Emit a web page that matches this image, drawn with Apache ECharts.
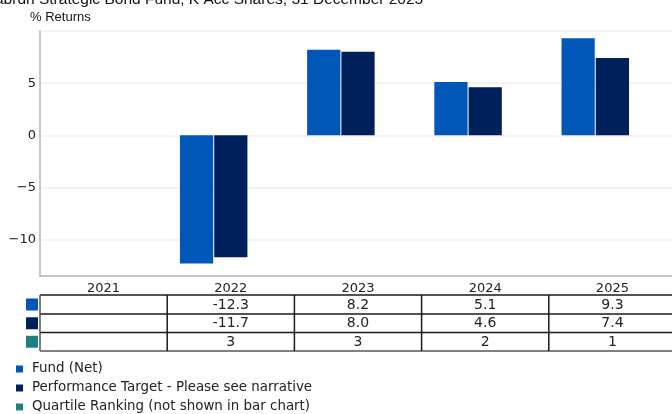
<!DOCTYPE html>
<html>
<head>
<meta charset="utf-8">
<script src="https://cdn.jsdelivr.net/npm/echarts@6/dist/echarts.min.js"></script>
<style>
html,body{margin:0;padding:0;background:#fff;}
#chart{width:672px;height:414px;}
</style>
</head>
<body>
<div id="chart"></div>
<script>
const titleText = 'abrdn Strategic Bond Fund, K Acc Shares, 31 December 2025';
const yAxisTitle = '% Returns';
const categories = ['2021', '2022', '2023', '2024', '2025'];
const fundNet = [null, -12.3, 8.2, 5.1, 9.3];
const perfTarget = [null, -11.7, 8.0, 4.6, 7.4];
const quartile = [null, 3, 3, 2, 1];
const seriesNames = ['Fund (Net)', 'Performance Target - Please see narrative', 'Quartile Ranking (not shown in bar chart)'];
const colors = ['#0057B8', '#00205B', '#1E8080'];
const yTickLabels = [-10, -5, 0, 5];

const FONT = 'DejaVu Sans';
const chart = echarts.init(document.getElementById('chart'), null, {renderer: 'canvas'});

const option = {
  animation: false,
  color: colors,
  grid: {left: 40, top: 31, width: 636, height: 245, containLabel: false, outerBoundsMode: 'none'},
  legend: {
    orient: 'vertical', left: 16, top: 361, padding: 0, height: 60,
    icon: 'rect', itemWidth: 7, itemHeight: 7, itemGap: 3,
    selectedMode: false,
    textStyle: {fontFamily: FONT, fontSize: 13.4, color: '#222', lineHeight: 16, padding: [0, 0, 0, 4]},
    data: seriesNames
  },
  xAxis: {
    type: 'category', data: categories,
    axisLine: {onZero: false, lineStyle: {color: '#b4b4b4', width: 1.5}},
    axisTick: {show: false},
    axisLabel: {fontFamily: FONT, fontSize: 13, color: '#222', margin: 6}
  },
  yAxis: {
    type: 'value', min: -13.5, max: 10,
    axisLine: {show: true, lineStyle: {color: '#b4b4b4', width: 1.5}},
    axisTick: {show: false},
    splitLine: {lineStyle: {color: '#f0f0f4', width: 1.5}},
    axisLabel: {
      fontFamily: FONT, fontSize: 13, color: '#222', margin: 4,
      formatter: function (v) {
        if (yTickLabels.indexOf(v) < 0) return '';
        return v < 0 ? '\u2212' + Math.abs(v) : String(v);
      }
    }
  },
  series: [
    {name: seriesNames[0], type: 'bar', data: fundNet, barGap: '3%', barCategoryGap: '20%', itemStyle: {color: colors[0]}},
    {name: seriesNames[1], type: 'bar', data: perfTarget, itemStyle: {color: colors[1]}},
    {name: seriesNames[2], type: 'bar', data: quartile.map(() => null), itemStyle: {color: colors[2]}}
  ]
};
chart.setOption(option);

function buildGraphics() {
  const centers = categories.map((c, i) => chart.convertToPixel({xAxisIndex: 0}, i));
  const band = centers[1] - centers[0];
  const xStart = centers[0] - band / 2;
  const xEnd = centers[centers.length - 1] + band / 2;
  const rowTops = [295, 314, 332.5];
  const rowH = [19, 18.5, 18.5];
  const tableBottom = 351;
  const els = [];
  els.push({type: 'text', left: -5, top: -8, silent: true,
    style: {text: titleText, font: '15.5px "Liberation Sans", Arial, sans-serif', fill: '#111'}});
  els.push({type: 'text', left: 30, top: 11, silent: true,
    style: {text: yAxisTitle, font: '13px "Liberation Sans", Arial, sans-serif', fill: '#111'}});
  rowTops.forEach(function (y) {
    els.push({type: 'line', silent: true, shape: {x1: xStart, y1: y, x2: xEnd, y2: y}, style: {stroke: '#1a1a1a', lineWidth: 1.5}});
  });
  els.push({type: 'line', silent: true, shape: {x1: xStart, y1: tableBottom, x2: xEnd, y2: tableBottom}, style: {stroke: '#808080', lineWidth: 2}});
  for (let i = 0; i <= categories.length; i++) {
    const x = xStart + i * band;
    els.push({type: 'line', silent: true, shape: {x1: x, y1: rowTops[0], x2: x, y2: tableBottom}, style: {stroke: i === 0 ? '#555' : '#1a1a1a', lineWidth: 1.5}});
  }
  const rows = [
    fundNet.map(v => v == null ? '' : v.toFixed(1)),
    perfTarget.map(v => v == null ? '' : v.toFixed(1)),
    quartile.map(v => v == null ? '' : String(v))
  ];
  rows.forEach(function (r, ri) {
    const cy = rowTops[ri] + rowH[ri] / 2;
    els.push({type: 'rect', silent: true, shape: {x: 26, y: cy - 6, width: 12, height: 12}, style: {fill: colors[ri]}});
    r.forEach(function (t, ci) {
      if (!t) return;
      els.push({type: 'text', silent: true, x: centers[ci], y: cy + 0.5,
        style: {text: t, fontFamily: FONT, fontSize: 14, fill: '#222', align: 'center', verticalAlign: 'middle'}});
    });
  });
  chart.setOption({graphic: {elements: els}});
}
buildGraphics();
</script>
</body>
</html>
